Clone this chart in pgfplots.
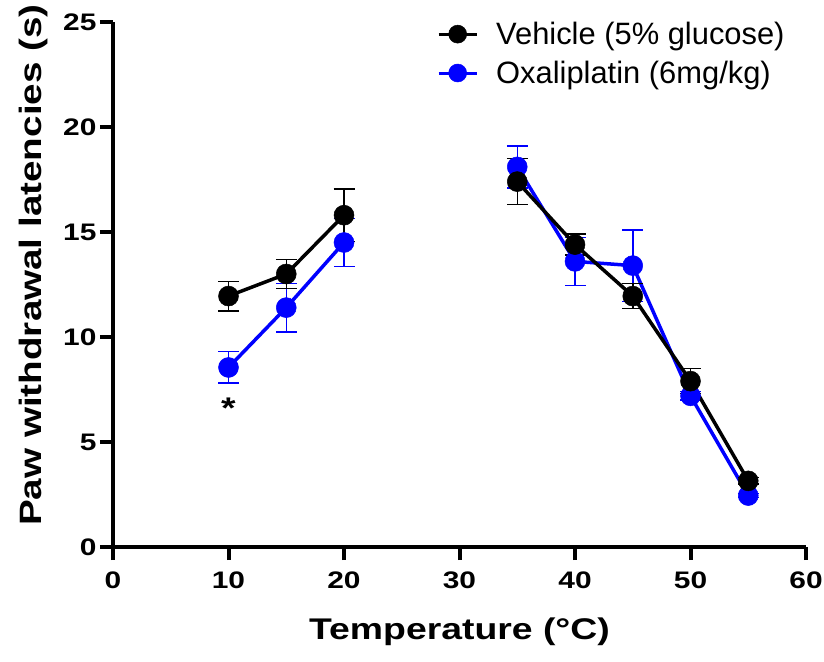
\documentclass[border=0pt]{standalone}
\usepackage{pgfplots}
\pgfplotsset{compat=1.18}
\usetikzlibrary{calc}
\usepackage{fontspec}
\setmainfont{Liberation Sans}
% the reference's bold text is stretched along its baseline
\newfontfamily\widebold[FakeStretch=1.25]{Liberation Sans}
\definecolor{oxblue}{RGB}{0,0,255}

\pgfplotstableread{
t   m     e
10  8.55  0.75
15  11.4  1.15
20  14.5  1.15
27  nan   0
35  18.1  1.0
40  13.6  1.15
45  13.4  1.7
50  7.2   0.2
55  2.45  0.1
}\oxali

\pgfplotstableread{
t   m     e
10  11.95 0.7
15  13.0  0.7
20  15.8  1.25
27  nan   0
35  17.4  1.1
40  14.4  0.5
45  11.95 0.6
50  7.9   0.6
55  3.15  0.15
}\vehicle

\begin{document}
\begin{tikzpicture}
\begin{axis}[
  scale only axis,
  width=693bp,
  height=525bp,
  xmin=0, xmax=60,
  ymin=0, ymax=25,
  xtick={0,10,...,60},
  ytick={0,5,...,25},
  axis lines=left,
  axis line style={-, line width=4bp},
  tick style={line width=4bp, black},
  tick align=outside,
  major tick length=13bp,
  unbounded coords=jump,
  clip=false,
  tick label style={font=\widebold\bfseries\fontsize{24}{24}\selectfont},
  xticklabel style={yshift=-8bp},
  /pgf/number format/assume math mode=true,
  xlabel={Temperature (°C)},
  ylabel={Paw withdrawal latencies (s)},
  xlabel style={font=\widebold\bfseries\fontsize{30}{32}\selectfont,
    at={(axis description cs:0.5,-0.162)}, anchor=center},
  ylabel style={font=\widebold\bfseries\fontsize{31}{32}\selectfont,
    at={(axis description cs:-0.1154,0.537)}, anchor=center},
  legend style={draw=none, fill=none, inner sep=0pt,
    at={(axis description cs:0.4675,1.0)}, anchor=north west,
    font=\fontsize{31}{32}\selectfont, row sep=15bp,
    nodes={inner sep=0pt},
    /tikz/every odd column/.append style={column sep=18bp}},
  legend cell align=left,
  legend image code/.code={
    \draw[#1, mark=none, line width=3bp] (0bp,0bp) -- (38bp,0bp);
    \draw[#1, mark size=9bp] plot coordinates {(19bp,0bp)};
  },
  reverse legend,
]
\addplot[oxblue, line width=3.5bp, mark=*, mark size=10bp,
  mark options={solid, fill=oxblue, draw=oxblue, line width=0.5bp},
  error bars/.cd, y dir=both, y explicit,
  error bar style={line width=1.5bp, oxblue},
  error mark options={rotate=90, mark size=10.5bp, line width=1.5bp, oxblue}]
  table[x=t, y=m, y error=e] {\oxali};
\addlegendentry{Oxaliplatin (6mg/kg)}
\addplot[black, line width=3.5bp, mark=*, mark size=10bp,
  mark options={solid, fill=black, draw=black, line width=0.5bp},
  error bars/.cd, y dir=both, y explicit,
  error bar style={line width=1.5bp, black},
  error mark options={rotate=90, mark size=10.5bp, line width=1.5bp, black}]
  table[x=t, y=m, y error=e] {\vehicle};
\addlegendentry{Vehicle (5\% glucose)}
\node[font=\widebold\bfseries\fontsize{30}{30}\selectfont] at (axis cs:10,6.6) {*};
\coordinate (sw) at (rel axis cs:0,0);
\coordinate (ne) at (rel axis cs:1,1);
\end{axis}
\pgfresetboundingbox
\path ($(sw)+(-113bp,-114bp)$) rectangle ($(ne)+(18bp,22bp)$);
\end{tikzpicture}
\end{document}
